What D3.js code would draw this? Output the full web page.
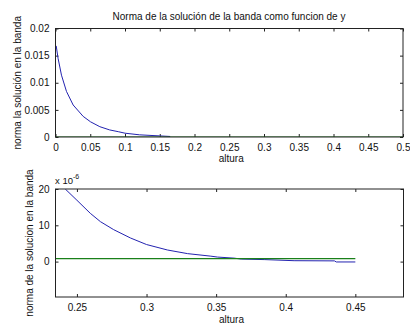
<!DOCTYPE html>
<html>
<head>
<meta charset="utf-8">
<script src="https://cdn.jsdelivr.net/npm/d3@7"></script>
<style>
html,body{margin:0;padding:0;background:#fff;}
text{font-family:"Liberation Sans",Arial,sans-serif;fill:#111;}
</style>
</head>
<body>
<script>
// ---- data ----
const titleText = "Norma de la solución de la banda como funcion de y";
const topYLabel = "norma la solución en la banda";
const botYLabel = "norma de la solucion en la banda";
const xLabel = "altura";

const topBlueX = [0.0010, 0.0037, 0.0086, 0.0158, 0.0254, 0.0398, 0.0504, 0.0638, 0.0780, 0.0903, 0.100, 0.121, 0.150, 0.165];
const topBlueY = [0.0168, 0.0145, 0.0114, 0.0084, 0.0059, 0.0038, 0.0028, 0.0019, 0.0013, 0.00098, 0.0007, 0.0004, 0.0002, 0.0001];
const topGreenX = [0, 0.5];
const topGreenY = [0, 0];

const botBlueX = [0.2380, 0.2416, 0.250, 0.2596, 0.2669, 0.2764, 0.2885, 0.300, 0.315, 0.3294, 0.3462, 0.351, 0.363, 0.368, 0.385, 0.406, 0.435, 0.4363, 0.450];
const botBlueY = [22.0, 20.0, 16.9, 13.3, 11.0, 8.8, 6.5, 4.7, 3.2, 2.2, 1.5, 1.25, 0.95, 0.7, 0.55, 0.25, 0.2, -0.1, -0.1];
const botGreenX = [0.2, 0.45];
const botGreenY = [0.8, 0.8];

const topXTicks = [0, 0.05, 0.1, 0.15, 0.2, 0.25, 0.3, 0.35, 0.4, 0.45, 0.5];
const topXTickLabels = ["0","0.05","0.1","0.15","0.2","0.25","0.3","0.35","0.4","0.45","0.5"];
const topYTicks = [0, 0.005, 0.01, 0.015, 0.02];
const topYTickLabels = ["0","0.005","0.01","0.015","0.02"];
const botXTicks = [0.25, 0.3, 0.35, 0.4, 0.45];
const botXTickLabels = ["0.25","0.3","0.35","0.4","0.45"];
const botYTicks = [0, 10, 20];
const botYTickLabels = ["0","10","20"];

const W = 410, H = 324;
const blue = "#2323b0", green = "#1a801a";

const svg = d3.select("body").append("svg").attr("width", W).attr("height", H);

function panel(cfg) {
  const x = d3.scaleLinear().domain(cfg.xDomain).range([cfg.left, cfg.right]);
  const y = d3.scaleLinear().domain(cfg.yDomain).range([cfg.bottom, cfg.top]);
  const g = svg.append("g");
  const clipId = "clip" + cfg.id;
  svg.append("clipPath").attr("id", clipId).append("rect")
    .attr("x", cfg.left).attr("y", cfg.top)
    .attr("width", cfg.right - cfg.left).attr("height", cfg.bottom - cfg.top);

  const fx = (t) => cfg.xLabels[cfg.xTicks.indexOf(t)];
  const fy = (t) => cfg.yLabels[cfg.yTicks.indexOf(t)];

  // axes with inward ticks on all sides
  const ab = g.append("g").attr("transform", `translate(0,${cfg.bottom})`)
    .call(d3.axisBottom(x).tickValues(cfg.xTicks).tickFormat(fx).tickSizeInner(-3).tickSizeOuter(0).tickPadding(7));
  const at = g.append("g").attr("transform", `translate(0,${cfg.top})`)
    .call(d3.axisTop(x).tickValues(cfg.xTicks).tickFormat("").tickSizeInner(-3).tickSizeOuter(0));
  const al = g.append("g").attr("transform", `translate(${cfg.left},0)`)
    .call(d3.axisLeft(y).tickValues(cfg.yTicks).tickFormat(fy).tickSizeInner(-3).tickSizeOuter(0).tickPadding(6));
  const ar = g.append("g").attr("transform", `translate(${cfg.right},0)`)
    .call(d3.axisRight(y).tickValues(cfg.yTicks).tickFormat("").tickSizeInner(-3).tickSizeOuter(0));
  [ab, at, al, ar].forEach(a => {
    a.select(".domain").remove();
    a.selectAll("line").attr("stroke", "#222");
    a.selectAll("text").attr("font-size", 10).attr("fill", "#111")
      .attr("font-family", '"Liberation Sans",Arial,sans-serif');
  });

  const line = d3.line().x(d => x(d[0])).y(d => y(d[1]));
  const lg = g.append("g").attr("clip-path", `url(#${clipId})`);
  lg.append("path").datum(cfg.blueX.map((v, i) => [v, cfg.blueY[i]]))
    .attr("d", line).attr("fill", "none").attr("stroke", blue).attr("stroke-width", 1);
  lg.append("path").datum(cfg.greenX.map((v, i) => [v, cfg.greenY[i]]))
    .attr("d", line).attr("fill", "none").attr("stroke", green).attr("stroke-width", 1.2);

  // box
  g.append("rect").attr("x", cfg.left).attr("y", cfg.top)
    .attr("width", cfg.right - cfg.left).attr("height", cfg.bottom - cfg.top)
    .attr("fill", "none").attr("stroke", "#222").attr("stroke-width", 1);

  // labels
  g.append("text").attr("x", (cfg.left + cfg.right) / 2 + 2).attr("y", cfg.xLabelY)
    .attr("text-anchor", "middle").attr("font-size", 10).text(xLabel);
  g.append("text").attr("transform", `translate(${cfg.yLabelX},${(cfg.top + cfg.bottom) / 2}) rotate(-90)`)
    .attr("text-anchor", "middle").attr("font-size", 10).text(cfg.yLabel);
  return { x, y, g };
}

panel({
  id: "top", left: 55.5, right: 403, top: 28.5, bottom: 137,
  xDomain: [0, 0.5], yDomain: [0, 0.02],
  xTicks: topXTicks, xLabels: topXTickLabels, yTicks: topYTicks, yLabels: topYTickLabels,
  blueX: topBlueX, blueY: topBlueY, greenX: topGreenX, greenY: topGreenY,
  xLabelY: 162, yLabelX: 21, yLabel: topYLabel
});

const bp = panel({
  id: "bot", left: 55.5, right: 403.5, top: 189, bottom: 297,
  xDomain: [0.2346, 0.4846], yDomain: [-9.75, 20],
  xTicks: botXTicks, xLabels: botXTickLabels, yTicks: botYTicks, yLabels: botYTickLabels,
  blueX: botBlueX, blueY: botBlueY, greenX: botGreenX, greenY: botGreenY,
  xLabelY: 323, yLabelX: 33, yLabel: botYLabel
});

// exponent multiplier
const m = svg.append("text").attr("x", 55).attr("y", 184).attr("font-size", 9.5);
m.append("tspan").text("x 10");
m.append("tspan").attr("dy", -5).attr("font-size", 7).text("-6");

// title
svg.append("text").attr("x", 229).attr("y", 20).attr("text-anchor", "middle")
  .attr("font-size", 10).text(titleText);
</script>
</body>
</html>
